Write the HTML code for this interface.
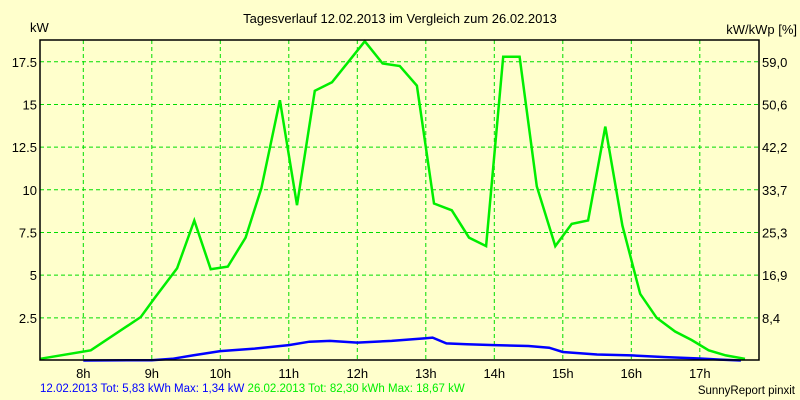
<!DOCTYPE html>
<html><head><meta charset="utf-8"><style>
body{margin:0;background:#ffffcc;}
svg{display:block;font-family:"Liberation Sans",sans-serif;}
</style></head><body>
<svg id="chart" width="800" height="400" viewBox="0 0 800 400">
<rect x="0" y="0" width="800" height="400" fill="#ffffcc"/>
<text x="400" y="23" text-anchor="middle" font-size="13">Tagesverlauf 12.02.2013 im Vergleich zum 26.02.2013</text>
<text x="30" y="32" font-size="13">kW</text>
<text x="797" y="34" text-anchor="end" font-size="13">kW/kWp [%]</text>
<g id="grid"></g>
<g id="series"></g>
<rect x="40" y="40" width="719" height="320" fill="none" stroke="#000" stroke-width="1.5"/>
<g id="labels"></g>
<text x="40" y="392" font-size="11.5" fill="#0000ff">12.02.2013 Tot: 5,83 kWh Max: 1,34 kW <tspan fill="#00ee00">26.02.2013 Tot: 82,30 kWh Max: 18,67 kW</tspan></text>
<text x="795" y="394" text-anchor="end" font-size="11.5">SunnyReport pinxit</text>
</svg>
<script>
const hourTicks=[8,9,10,11,12,13,14,15,16,17];
const yTicks=[2.5,5,7.5,10,12.5,15,17.5];
const yTickLabels=["2.5","5","7.5","10","12.5","15","17.5"];
const y2TickLabels=["8,4","16,9","25,3","33,7","42,2","50,6","59,0"];
const greenTimes=[7.37,8.11,8.84,9.05,9.37,9.62,9.86,10.11,10.37,10.6,10.87,11.12,11.38,11.63,12.11,12.37,12.62,12.87,13.12,13.38,13.63,13.88,14.13,14.37,14.62,14.89,15.13,15.37,15.62,15.87,16.13,16.37,16.64,16.88,17.13,17.38,17.66];
const greenValues=[0.1,0.6,2.55,3.7,5.4,8.2,5.35,5.5,7.2,10.1,15.25,9.1,15.8,16.3,18.7,17.4,17.25,16.1,9.2,8.8,7.2,6.7,17.8,17.8,10.2,6.7,8.0,8.2,13.7,7.9,3.9,2.5,1.7,1.2,0.6,0.3,0.1];
const blueTimes=[8.0,9.0,9.3,9.6,10.0,10.5,11.0,11.3,11.6,12.0,12.5,13.0,13.1,13.3,13.6,14.0,14.5,14.8,15.0,15.5,16.0,16.5,17.0,17.3,17.6];
const blueValues=[0.0,0.02,0.1,0.3,0.55,0.7,0.9,1.1,1.15,1.05,1.15,1.3,1.34,1.0,0.95,0.9,0.85,0.75,0.5,0.35,0.3,0.2,0.12,0.05,0.0];
const ns="http://www.w3.org/2000/svg";
function xs(t){return 83.3+(t-8)*68.5;}
function ys(v){return 360.5-v*17.07;}
const grid=document.getElementById('grid'),labels=document.getElementById('labels'),series=document.getElementById('series');
hourTicks.forEach(h=>{
 const l=document.createElementNS(ns,'line');
 
 
 l.setAttribute('x1',xs(h));l.setAttribute('x2',xs(h));l.setAttribute('y1',40);l.setAttribute('y2',360);
 l.setAttribute('stroke','#00dd00');l.setAttribute('stroke-dasharray','4,3');
 grid.appendChild(l);
 const t=document.createElementNS(ns,'text');
 
 
 t.setAttribute('x',xs(h));t.setAttribute('y',378);t.setAttribute('text-anchor','middle');t.setAttribute('font-size','13');
 t.textContent=h+'h';labels.appendChild(t);
});
yTicks.forEach((v,i)=>{
 const l=document.createElementNS(ns,'line');
 
 
 l.setAttribute('x1',40);l.setAttribute('x2',759);l.setAttribute('y1',ys(v));l.setAttribute('y2',ys(v));
 l.setAttribute('stroke','#00dd00');l.setAttribute('stroke-dasharray','4,3');
 grid.appendChild(l);
 const t=document.createElementNS(ns,'text');
 
 
 t.setAttribute('x',37);t.setAttribute('y',ys(v)+5);t.setAttribute('text-anchor','end');t.setAttribute('font-size','13');
 t.textContent=yTickLabels[i];labels.appendChild(t);
 const t2=document.createElementNS(ns,'text');
 
 
 t2.setAttribute('x',762);t2.setAttribute('y',ys(v)+5);t2.setAttribute('font-size','13');
 t2.textContent=y2TickLabels[i];labels.appendChild(t2);
});
function line(ts,vs,color,name){
 const p=document.createElementNS(ns,'polyline');
 
 
 p.setAttribute('points',ts.map((t,i)=>xs(t).toFixed(1)+','+ys(vs[i]).toFixed(1)).join(' '));
 p.setAttribute('fill','none');p.setAttribute('stroke',color);p.setAttribute('stroke-width','2.5');
 series.appendChild(p);
}
line(blueTimes,blueValues,'#0000ff','series-12-02-2013');
line(greenTimes,greenValues,'#00ee00','series-26-02-2013');
</script>
</body></html>
